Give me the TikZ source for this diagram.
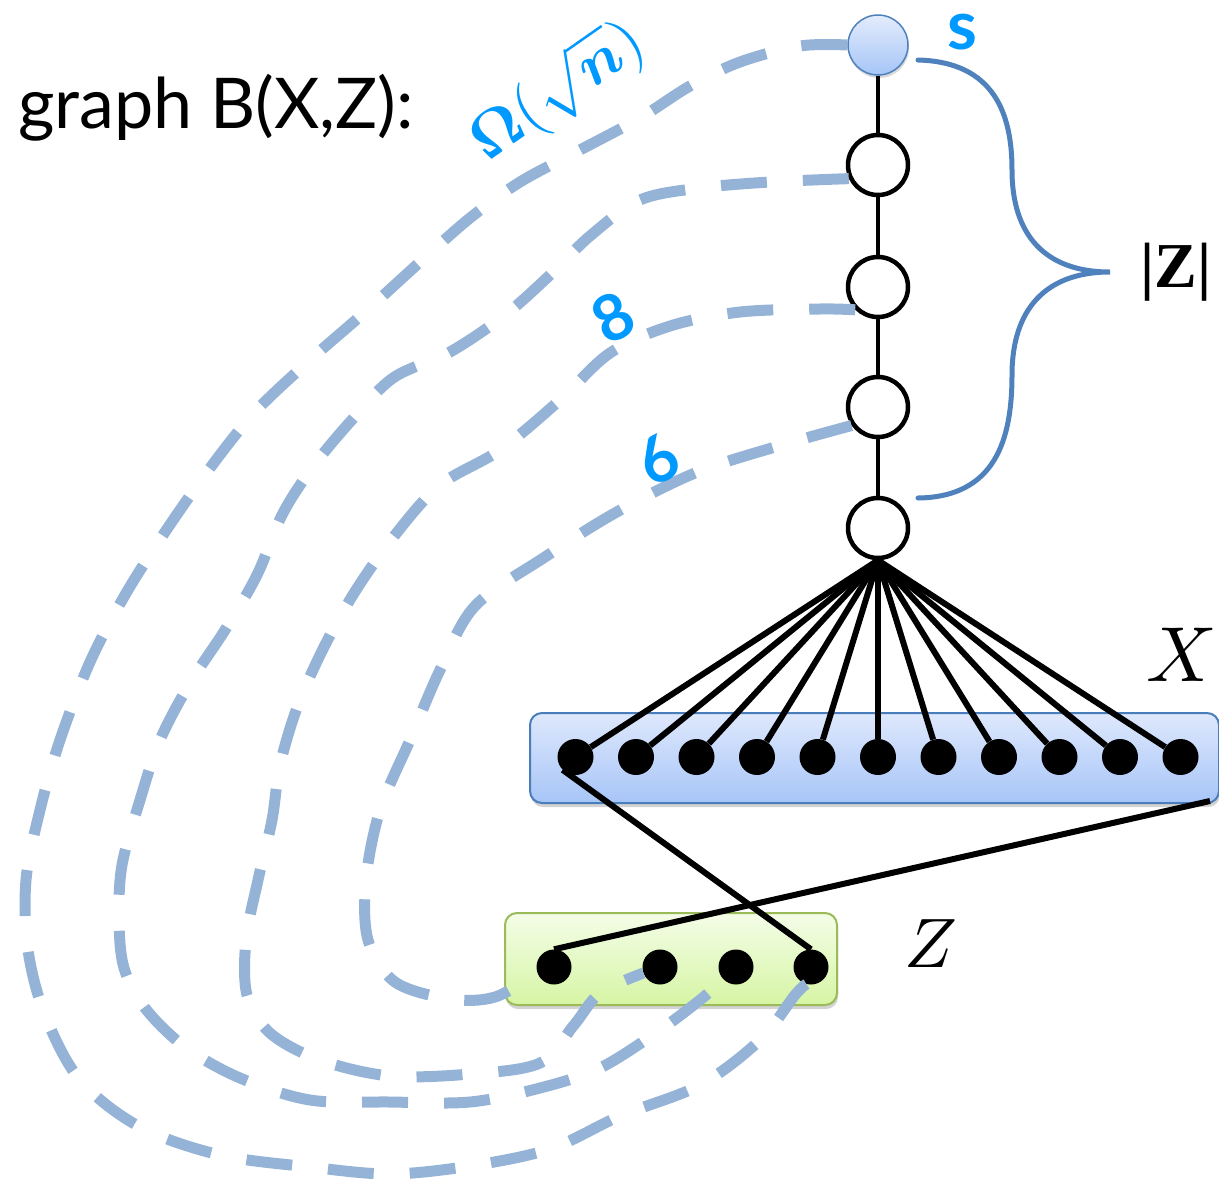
\documentclass[tikz,border=0pt]{standalone}
\usepackage{fontspec}
\usepackage{amsmath}
\usepackage{graphicx}
\setsansfont{Lato}
\newfontfamily\titlefont{Lato}
\newfontfamily\zsizefont{Liberation Serif}
\usetikzlibrary{shadows,calc}
\definecolor{dashblue}{HTML}{95B3D7}
\definecolor{bracecol}{HTML}{4F81BD}
\definecolor{lblblue}{HTML}{0099FF}
\definecolor{sTop}{HTML}{E3ECFC}
\definecolor{sBot}{HTML}{A6C5F7}
\definecolor{xTop}{HTML}{DEE8FC}
\definecolor{xBot}{HTML}{A7C5F8}
\definecolor{xBorder}{HTML}{4A7EBB}
\definecolor{zTop}{HTML}{F4FDE8}
\definecolor{zBot}{HTML}{D6F5A4}
\definecolor{zBorder}{HTML}{9BBB59}
\begin{document}
\begin{tikzpicture}[x=1pt,y=-1pt,
  chainnode/.style={circle, draw=black, line width=4.5pt, fill=white, minimum size=60pt, inner sep=0pt},
  snode/.style={circle, draw=bracecol, line width=1.5pt, top color=sTop, bottom color=sBot, minimum size=60pt, inner sep=0pt, drop shadow={opacity=0.3, shadow xshift=1pt, shadow yshift=-3pt}},
  dotnode/.style={circle, fill=black, minimum size=36pt, inner sep=0pt},
  xboxstyle/.style={rectangle, rounded corners=12pt, draw=xBorder, line width=2pt, top color=xTop, bottom color=xBot, minimum width=689pt, minimum height=90pt, inner sep=0pt, drop shadow={opacity=0.35, shadow xshift=1pt, shadow yshift=-4pt}},
  zboxstyle/.style={rectangle, rounded corners=12pt, draw=zBorder, line width=2pt, top color=zTop, bottom color=zBot, minimum width=332pt, minimum height=92pt, inner sep=0pt, drop shadow={opacity=0.35, shadow xshift=1pt, shadow yshift=-4pt}},
  blackedge/.style={line width=6pt, black},
  chainedge/.style={line width=4.5pt, black},
  dashcurve/.style={line width=11pt, dashblue, dash pattern=on 46pt off 36pt},
  bracestyle/.style={line width=5pt, bracecol, line cap=round},
  numlbl/.style={font=\sffamily\bfseries\fontsize{64}{64}\selectfont, text=lblblue, inner sep=0pt},
  mathlbl/.style={inner sep=0pt},
]
\useasboundingbox (0,0) rectangle (1219,1184);

% boxes
\node[xboxstyle] (xbox) at (874.5,758) {};
\node[zboxstyle] (zbox) at (671,959) {};

% chain
\node[snode] (s) at (878,45) {};
\node[chainnode] (n1) at (878,165) {};
\node[chainnode] (n2) at (878,287) {};
\node[chainnode] (n3) at (878,407) {};
\node[chainnode] (n4) at (878,528) {};
\draw[chainedge] (s) -- (n1);
\draw[chainedge] (n1) -- (n2);
\draw[chainedge] (n2) -- (n3);
\draw[chainedge] (n3) -- (n4);

% X dots
\foreach \i/\xx in {1/575.5,2/636,3/696.5,4/757,5/817.5,6/878,7/938.5,8/999,9/1059.5,10/1120,11/1180.5} {
  \node[dotnode] (x\i) at (\xx,757) {};
}
\foreach \i in {1,...,11} {
  \draw[blackedge] (n4.south) -- (x\i);
}

% Z dots
\node[dotnode, minimum size=35pt] (z1) at (554,967) {};
\node[dotnode, minimum size=35pt] (z2) at (660,967) {};
\node[dotnode, minimum size=35pt] (z3) at (736,967) {};
\node[dotnode, minimum size=35pt] (z4) at (811,967) {};

\coordinate (xr) at (1210,801);
\draw[blackedge] (x1.225) -- (z4.north);
\draw[blackedge] (xr) -- (z1.north);

% dashed curves
\draw[dashcurve] plot[smooth, tension=0.55] coordinates {(n3.215) (775,447) (695,473) (615,513) (545,557) (475,606) (440,670) (410,740) (380,810) (366,880) (368,940) (395,982) (450,999) (495,997) (z1.200)};
\draw[dashcurve] plot[smooth, tension=0.55] coordinates {(n2.225) (820,309) (740,312) (670,326) (610,353) (560,400) (500,450) (440,485) (395,535) (356,590) (325,645) (298,705) (280,765) (272,820) (258,880) (246,940) (247,995) (270,1033) (320,1060) (390,1076) (470,1074) (540,1063) (574,1025) (600,993) (z2.200)};
\draw[dashcurve] plot[smooth, tension=0.55] coordinates {(n1.205) (770,182) (700,188) (640,200) (590,236) (550,275) (505,315) (450,352) (393,378) (350,422) (312,468) (282,515) (257,575) (225,630) (190,683) (160,740) (140,800) (122,865) (119,920) (124,968) (145,1008) (185,1047) (240,1078) (310,1100) (390,1102) (470,1102) (540,1088) (600,1068) (660,1030) (700,1000) (z3.225)};
\draw[dashcurve] plot[smooth, tension=0.55] coordinates {(s.west) (800,46) (740,62) (690,86) (640,118) (580,150) (520,182) (470,218) (420,262) (365,312) (310,360) (255,412) (210,468) (165,532) (125,595) (90,662) (60,740) (40,810) (26,880) (28,950) (45,1015) (80,1080) (140,1127) (220,1155) (310,1167) (390,1174) (470,1166) (550,1149) (620,1116) (700,1085) (760,1040) (795,995) (z4.255)};

% brace
\coordinate (btop) at (918,60);
\coordinate (bbot) at (918,498);
\coordinate (btip) at (1110,272);
\draw[bracestyle] (btop) .. controls (995,62) and (1012,115) .. (1012,170) .. controls (1012,235) and (1045,272) .. (btip) .. controls (1045,272) and (1012,310) .. (1012,375) .. controls (1012,440) and (995,497) .. (bbot);

% labels
\node[anchor=base west, inner sep=0pt, font=\titlefont\fontsize{70}{70}\selectfont] (title) at (18,128) {graph B(X,Z):};
\node[inner sep=0pt, font=\sffamily\bfseries\fontsize{68}{68}\selectfont, text=lblblue] (slbl) at (962,32) {s};
\node[mathlbl, font=\zsizefont\bfseries\fontsize{64}{64}\selectfont] (zsize) at (1176,272) {|Z|};
\node[mathlbl] (xlbl) at (1182,655) {\scalebox{7.8}{$X$}};
\node[mathlbl] (zlbl) at (931,944) {\scalebox{7}{$Z$}};
\node[mathlbl, rotate=35, text=lblblue] (omega) at (558,92) {\scalebox{6.2}{$\boldsymbol{\Omega}(\sqrt{\boldsymbol{n}})$}};
\node[numlbl, rotate=28] (eight) at (613,317) {8};
\node[numlbl, rotate=28] (six) at (658,460) {6};
\end{tikzpicture}
\end{document}
